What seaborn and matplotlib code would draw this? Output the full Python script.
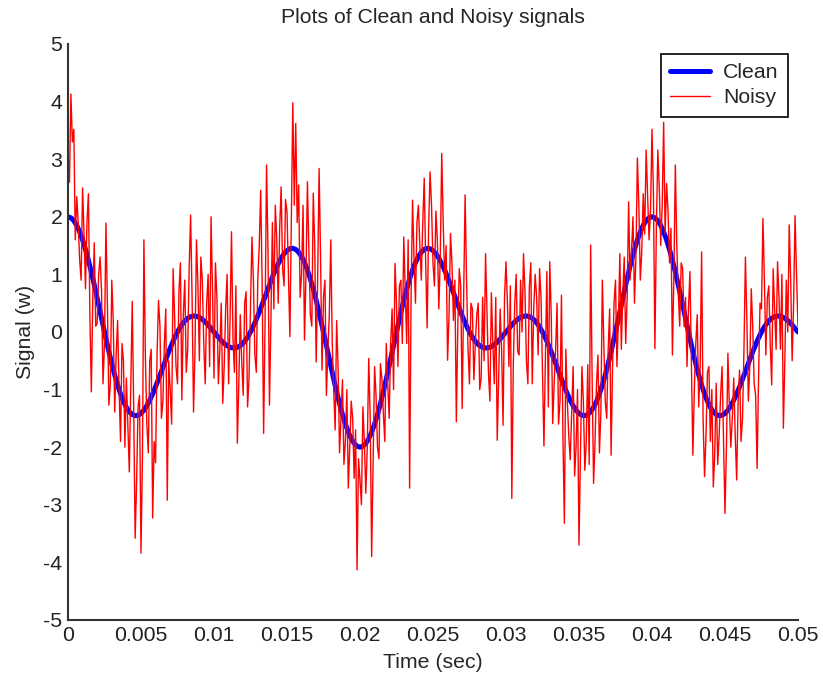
import numpy as np
import pandas as pd
import matplotlib
matplotlib.use("Agg")
import matplotlib.pyplot as plt
import matplotlib.ticker as mticker
import seaborn as sns

# sample spacing (seconds)
CLEAN_STEP = 0.0002
NOISY_STEP = 0.0001

# clean signal, one value per 0.2 ms (0 .. 0.05 s)
clean = [
    2.000, 1.983, 1.933, 1.851, 1.739, 1.598, 1.432, 1.244, 1.038, 0.818,
    0.588, 0.353, 0.117, -0.115, -0.339, -0.551, -0.746, -0.922, -1.076, -1.206,
    -1.309, -1.385, -1.433, -1.453, -1.446, -1.414, -1.358, -1.281, -1.185, -1.074,
    -0.951, -0.820, -0.683, -0.546, -0.410, -0.281, -0.160, -0.050, 0.046, 0.127,
    0.191, 0.238, 0.267, 0.278, 0.273, 0.253, 0.220, 0.175, 0.122, 0.062,
    0.000, -0.062, -0.122, -0.175, -0.220, -0.253, -0.273, -0.278, -0.267, -0.238,
    -0.191, -0.127, -0.046, 0.050, 0.160, 0.281, 0.410, 0.546, 0.683, 0.820,
    0.951, 1.074, 1.185, 1.281, 1.358, 1.414, 1.446, 1.453, 1.433, 1.385,
    1.309, 1.206, 1.076, 0.922, 0.746, 0.551, 0.339, 0.115, -0.117, -0.353,
    -0.588, -0.818, -1.038, -1.244, -1.432, -1.598, -1.739, -1.851, -1.933, -1.983,
    -2.000, -1.983, -1.933, -1.851, -1.739, -1.598, -1.432, -1.244, -1.038, -0.818,
    -0.588, -0.353, -0.117, 0.115, 0.339, 0.551, 0.746, 0.922, 1.076, 1.206,
    1.309, 1.385, 1.433, 1.453, 1.446, 1.414, 1.358, 1.281, 1.185, 1.074,
    0.951, 0.820, 0.683, 0.546, 0.410, 0.281, 0.160, 0.050, -0.046, -0.127,
    -0.191, -0.238, -0.267, -0.278, -0.273, -0.253, -0.220, -0.175, -0.122, -0.062,
    0.000, 0.062, 0.122, 0.175, 0.220, 0.253, 0.273, 0.278, 0.267, 0.238,
    0.191, 0.127, 0.046, -0.050, -0.160, -0.281, -0.410, -0.546, -0.683, -0.820,
    -0.951, -1.074, -1.185, -1.281, -1.358, -1.414, -1.446, -1.453, -1.433, -1.385,
    -1.309, -1.206, -1.076, -0.922, -0.746, -0.551, -0.339, -0.115, 0.117, 0.353,
    0.588, 0.818, 1.038, 1.244, 1.432, 1.598, 1.739, 1.851, 1.933, 1.983,
    2.000, 1.983, 1.933, 1.851, 1.739, 1.598, 1.432, 1.244, 1.038, 0.818,
    0.588, 0.353, 0.117, -0.115, -0.339, -0.551, -0.746, -0.922, -1.076, -1.206,
    -1.309, -1.385, -1.433, -1.453, -1.446, -1.414, -1.358, -1.281, -1.185, -1.074,
    -0.951, -0.820, -0.683, -0.546, -0.410, -0.281, -0.160, -0.050, 0.046, 0.127,
    0.191, 0.238, 0.267, 0.278, 0.273, 0.253, 0.220, 0.175, 0.122, 0.062,
    0.000,
]

# noisy signal, one value per 0.1 ms
noisy = [
    3.10, 2.6, 4.13, 3.3, 3.52, 1.6, 2.35, 1.9, 1.25, 0.9, 2.50, 1.7, 0.75, 1.9, 2.40, 0.3, -1.04, 0.6, 1.55, 0.1,
    0.15, 1.0, 1.30, 0.7, -0.90, -0.2, 1.89, 0.5, -1.27, -0.9, 0.90, 0.2, -1.39, -0.4, 0.20, -1.0, -1.90, -0.2, -0.50, -2.0,
    -0.80, -1.6, -2.43, -1.0, 0.53, -1.3, -3.58, -2.6, -1.30, -1.1, -3.84, -2.2, 1.60, -0.4, -1.60, -2.1, -0.50, -0.3, -3.23, -1.9,
    -2.27, -0.4, 0.55, 0.1, -1.50, -1.2, -0.20, 0.4, -2.92, -0.5, -1.00, -1.6, 1.10, 0.3, -0.60, -0.9, 0.70, 1.2, -1.18, 0.3,
    0.90, -0.7, -0.30, 1.1, 2.03, 0.6, -1.39, -0.3, 1.60, 0.8, -0.50, 1.3, 0.90, -0.2, -0.90, 0.5, 1.00, -0.6, 2.00, 0.7,
    -0.80, 1.2, 0.60, -0.9, -0.30, 0.5, -1.24, -0.6, 0.40, 1.0, -0.90, 0.2, 1.74, -0.1, -0.70, 0.8, -1.93, -0.9, 0.30, -0.5,
    -1.10, 0.5, 0.70, -1.3, -0.80, 0.4, 1.65, 0.9, -0.40, -0.7, 0.90, 1.5, 2.46, 0.8, -1.76, 0.2, 2.90, 1.4, -1.27, 0.2,
    1.90, 0.4, 2.20, 1.6, 0.50, 1.8, 2.52, 1.1, 0.80, 2.3, 2.10, 1.0, -0.08, 2.0, 3.98, 2.2, 3.62, 1.9, 2.55, 0.6,
    1.00, 2.2, -0.14, 1.0, 2.61, 1.4, 0.30, 0.1, 2.41, 1.5, -0.52, 0.9, 2.84, 1.3, -0.66, 0.6, 0.90, -1.1, -0.30, 0.3,
    1.60, -0.2, -1.00, -1.7, 0.20, -0.6, -2.10, -1.5, -0.83, -2.3, -1.90, -1.0, -2.71, -2.0, -1.20, -1.5, -2.54, -1.7, -4.13, -2.2,
    -2.57, -3.0, -1.30, -1.9, -2.80, -2.0, -0.46, -1.5, -3.90, -2.3, -0.60, -1.1, -2.00, -2.2, -0.55, -0.8, -1.41, -1.9, -0.20, -0.9,
    -1.50, -0.2, 0.40, -1.0, 1.19, 0.5, -0.60, 0.8, 0.90, -0.2, 1.65, 0.7, -0.20, 1.6, -2.71, 0.6, 2.29, 1.3, 0.50, 1.9,
    2.20, 1.5, 0.90, 1.9, 2.67, 1.2, 0.07, 1.8, 2.78, 2.2, 1.20, 0.8, 2.10, 1.6, 0.40, 1.3, 3.10, 1.9, 0.90, 1.5,
    -0.49, 0.3, 1.71, 1.2, 0.20, 0.9, -1.56, 0.1, 1.10, 0.8, -1.33, 0.6, 2.38, 0.9, -0.30, -0.9, 0.50, 0.4, -0.83, -0.2,
    0.30, 0.5, -1.00, -0.8, 0.60, -0.5, 1.36, 0.3, -0.70, -1.2, 0.68, -0.2, -0.90, 0.6, -1.88, -0.8, 0.40, -0.3, -1.62, 0.6,
    1.22, 0.5, -0.60, 0.8, -2.89, -0.6, 0.50, 1.0, -0.34, -0.4, 0.90, 0.0, 1.36, 0.7, -0.50, -0.9, 0.78, 1.2, -0.90, 0.4,
    1.00, 0.6, -0.40, 1.1, 0.60, -0.7, -1.98, -0.5, 1.05, -1.3, 1.22, 0.3, -1.59, -0.9, -0.30, 0.5, -1.60, -1.2, 0.64, -1.8,
    -3.32, -0.3, -1.20, -1.8, -2.22, -1.4, -0.60, -2.5, -2.00, -1.0, -3.70, -2.1, -0.60, -1.2, -2.40, -1.9, -0.57, -2.3, 1.51, -0.8,
    -2.63, -1.9, -0.90, -0.4, -2.10, -1.4, 0.90, -0.2, -1.20, -1.5, -0.30, 0.4, -2.14, -0.6, 0.50, 0.9, -0.60, 0.2, 1.36, -0.3,
    0.64, 1.3, -0.20, 0.6, 2.26, 0.9, 1.42, 2.0, 0.50, 1.3, 3.02, 2.2, 0.90, 1.4, 2.40, 1.7, 3.16, 2.4, 1.60, 2.1,
    3.52, 2.4, -0.29, 1.8, 3.16, 2.5, 1.50, 2.2, 3.64, 1.7, 2.58, 2.1, 1.20, 1.8, -0.40, 1.0, 2.90, 1.5, 0.67, 0.1,
    1.20, 1.1, 0.09, 0.6, -0.60, 0.4, 1.05, -0.6, -2.14, -1.0, -0.20, 0.3, -1.30, -0.6, 1.39, -1.5, -2.51, -1.8, -0.70, -0.6,
    -1.90, -1.0, -2.69, -2.1, -0.89, -2.3, -1.80, -1.1, -0.60, -1.9, -3.15, -2.0, -0.37, -1.3, -2.00, -1.5, -0.80, -1.8, -2.57, -1.2,
    -0.66, -1.9, -1.50, -0.3, 1.30, 0.2, -1.20, -0.6, 0.75, 0.1, -0.90, -1.1, -2.37, -0.8, 0.50, 0.4, 1.97, 0.9, -0.40, 0.6,
    0.80, -0.2, -0.92, 1.1, 0.40, -0.3, 1.22, 0.6, -0.30, 1.0, -1.67, -0.5, 0.90, 0.0, 1.86, 0.9, -0.50, 0.5, 2.02, 1.0,
    0.10,
]

x_ticks = [0, 0.005, 0.01, 0.015, 0.02, 0.025, 0.03, 0.035, 0.04, 0.045, 0.05]
y_ticks = [-5, -4, -3, -2, -1, 0, 1, 2, 3, 4, 5]

clean_df = pd.DataFrame({"time": np.arange(len(clean)) * CLEAN_STEP, "signal": clean})
noisy_df = pd.DataFrame({"time": np.arange(len(noisy)) * NOISY_STEP, "signal": noisy})

sns.set_style("white")
plt.rcParams["font.family"] = ["Liberation Sans", "DejaVu Sans"]
plt.rcParams["axes.unicode_minus"] = False
FS = 15.3

fig = plt.figure(figsize=(8.23, 6.81), dpi=100)
ax = fig.add_axes([0.0826, 0.0896, 0.887, 0.8458])

sns.lineplot(data=clean_df, x="time", y="signal", ax=ax, color="#0000ff",
             linewidth=3.6, label="Clean", estimator=None, sort=False)
sns.lineplot(data=noisy_df, x="time", y="signal", ax=ax, color="#ff0000",
             linewidth=1.0, label="Noisy", estimator=None, sort=False)

ax.set_xlim(0, 0.05)
ax.set_ylim(-5, 5)
ax.set_xticks(x_ticks)
ax.set_yticks(y_ticks)
ax.xaxis.set_major_formatter(mticker.FormatStrFormatter("%g"))
ax.tick_params(direction="in", length=6, width=1.2, colors="#222222",
               labelcolor="#222222", labelsize=FS, pad=4)

for side in ["top", "right"]:
    ax.spines[side].set_visible(False)
for side in ["left", "bottom"]:
    ax.spines[side].set_color("#333333")
    ax.spines[side].set_linewidth(1.5)

ax.set_title("Plots of Clean and Noisy signals", fontsize=FS, pad=15)
ax.set_xlabel("Time (sec)", fontsize=FS, labelpad=6)
ax.set_ylabel("Signal (w)", fontsize=FS, labelpad=6)

leg = ax.legend(loc="upper right", fancybox=False, framealpha=1,
                edgecolor="black", borderaxespad=0.45, handlelength=1.85,
                handletextpad=0.65, fontsize=FS, borderpad=0.45,
                labelspacing=0.3)
leg.get_frame().set_linewidth(1.2)

fig.savefig("out.png", dpi=100, facecolor="white")
